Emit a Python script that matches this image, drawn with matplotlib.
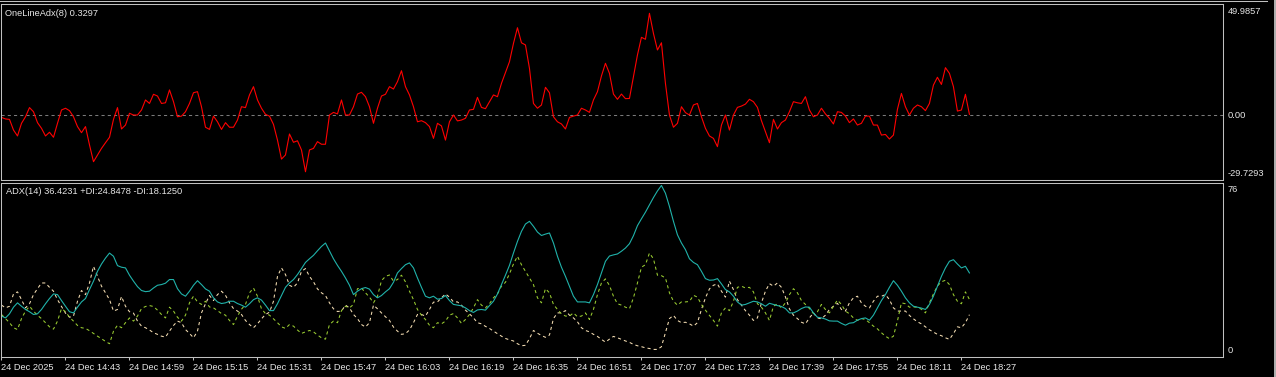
import matplotlib
matplotlib.use("Agg")
import matplotlib.pyplot as plt
import numpy as np
from matplotlib.lines import Line2D

W, H = 1276, 377

# OneLineAdx(8), one value per M1 bar
osc = [
    -1.1, -1.8, -2.0, -6.9, -9.6, -3.8, -0.8, 3.4, 1.5, -3.5,
    -6.1, -9.6, -7.9, -10.2, -3.8, 2.3, 3.1, 2.0, -0.8, -5.3,
    -8.1, -5.3, -13.7, -21.4, -18.3, -15.3, -12.7, -10.2, -2.0, 3.4,
    -6.4, -4.6, 0.8, 0.0, 0.0, 2.3, 6.9, 5.3, 9.5, 8.7,
    5.3, 5.6, 11.5, 6.1, -0.8, -0.5, 1.5, 5.3, 10.2, 10.7,
    3.8, -5.6, -6.6, -0.5, -3.1, -6.6, -3.5, -5.6, -5.6, -2.3,
    3.8, 3.4, 9.2, 13.0, 6.9, 3.1, 0.3, -0.5, -4.3, -11.5,
    -20.2, -18.3, -8.7, -12.5, -11.8, -16.0, -26.0, -16.0, -15.3, -12.2,
    -13.4, -13.4, 0.0, 1.2, 0.5, 6.9, 0.0, 0.0, 3.8, 9.6,
    10.4, 8.4, 3.8, -3.8, 3.1, 8.7, 9.5, 13.0, 11.9, 15.3,
    20.3, 13.0, 9.2, 3.8, -3.1, -2.6, -3.5, -5.3, -10.7, -3.8,
    -5.0, -11.5, -3.1, 0.0, -2.7, -2.3, -1.5, 2.3, 2.6, 8.1,
    3.5, 2.9, 6.1, 9.2, 8.4, 14.5, 19.4, 24.4, 32.8, 40.0,
    33.1, 32.1, 21.4, 5.3, 3.1, 4.6, 12.7, 10.2, -0.8, -3.1,
    -4.1, -6.4, -1.1, -0.5, 0.0, 3.1, 2.3, 1.2, 6.9, 10.7,
    17.9, 23.7, 19.1, 9.6, 7.2, 9.6, 7.5, 7.6, 17.6, 27.5,
    35.6, 34.7, 46.6, 37.4, 29.8, 33.1, 14.5, 0.0, -5.6, -3.8,
    3.8, 1.1, 0.0, 4.6, 5.3, -0.8, -6.1, -9.6, -10.7, -14.5,
    -4.6, 0.0, -6.9, 0.0, 3.5, 4.1, 5.0, 7.2, 6.1, 3.5,
    -2.6, -7.6, -12.7, -2.0, -6.4, -3.5, -2.3, 1.5, 6.1, 5.6,
    5.3, 8.4, 2.3, -0.8, 0.0, 3.1, 0.5, -1.5, -4.1, 1.5,
    1.2, -0.5, -3.5, -1.8, -4.6, -3.8, -0.5, -0.5, -4.6, -4.6,
    -9.2, -8.9, -11.0, -9.2, 2.6, 9.9, 3.8, 0.0, 3.1, 4.6,
    3.8, 2.0, 5.3, 13.7, 17.3, 14.0, 21.7, 19.1, 13.0, 1.8,
    2.3, 9.5, 0.3,
]

# ADX(14) main line, +DI, -DI
adx = [
    17.5, 16.7, 18.5, 21.4, 23.3, 21.8, 20.4, 19.4, 18.2, 18.5,
    20.4, 22.9, 25.2, 27.2, 26.9, 24.3, 21.8, 19.4, 18.9, 21.4,
    23.7, 25.2, 29.1, 32.8, 37.1, 40.3, 42.9, 45.1, 43.7, 39.6,
    38.9, 38.6, 35.4, 32.8, 30.4, 28.7, 28.2, 28.4, 29.8, 31.0,
    31.3, 31.9, 33.5, 33.5, 29.5, 27.2, 26.2, 28.4, 31.0, 33.0,
    31.3, 29.4, 28.4, 25.5, 23.7, 23.0, 23.3, 24.0, 24.0, 23.0,
    22.3, 21.4, 22.9, 24.7, 25.5, 24.5, 22.3, 19.9, 19.9, 22.9,
    26.5, 30.1, 32.0, 33.5, 35.7, 38.3, 41.0, 42.6, 44.1, 46.1,
    48.0, 49.5, 46.1, 42.6, 39.7, 37.1, 34.2, 31.0, 26.9, 28.4,
    29.5, 30.0, 29.3, 26.9, 25.5, 26.5, 28.1, 29.5, 32.3, 36.4,
    38.3, 40.0, 40.8, 38.6, 34.2, 30.1, 26.2, 25.5, 26.2, 24.9,
    25.2, 26.5, 24.3, 22.6, 22.3, 22.0, 21.1, 19.9, 19.1, 20.2,
    20.4, 20.1, 22.1, 24.0, 27.2, 31.3, 35.4, 39.7, 45.1, 50.2,
    54.6, 57.8, 59.0, 56.8, 54.3, 52.8, 53.4, 53.9, 49.5, 43.7,
    38.9, 34.9, 30.6, 26.2, 23.7, 23.7, 23.7, 23.3, 26.9, 31.3,
    36.4, 41.5, 43.8, 44.3, 44.7, 45.9, 47.3, 49.2, 52.7, 57.1,
    60.1, 63.0, 66.2, 69.4, 72.3, 74.7, 71.3, 65.5, 59.0, 53.1,
    49.5, 46.6, 42.6, 41.0, 40.0, 37.1, 33.9, 33.2, 33.3, 33.9,
    31.6, 29.1, 28.1, 26.2, 23.7, 22.3, 22.6, 23.3, 24.0, 23.7,
    22.9, 21.8, 23.1, 22.6, 22.1, 21.7, 20.8, 18.9, 18.9, 19.7,
    20.8, 21.5, 21.4, 18.9, 17.0, 16.7, 16.2, 15.4, 15.3, 15.3,
    14.3, 13.5, 14.4, 14.6, 15.7, 16.4, 16.7, 15.7, 17.9, 21.1,
    24.3, 26.9, 30.1, 33.0, 31.0, 28.4, 25.5, 23.3, 21.8, 21.4,
    21.0, 20.4, 22.6, 26.2, 30.6, 34.9, 38.6, 41.5, 42.2, 40.3,
    38.6, 39.3, 36.4,
]

plus_di = [
    18.2, 16.4, 14.6, 12.4, 11.6, 16.4, 19.7, 21.8, 19.7, 17.8,
    16.4, 14.6, 12.8, 11.8, 15.3, 20.8, 19.4, 17.0, 15.3, 13.4,
    12.4, 12.1, 11.1, 9.9, 8.7, 7.6, 6.4, 5.4, 10.9, 13.5,
    12.4, 14.6, 16.7, 15.3, 17.5, 20.8, 21.7, 22.1, 21.7, 20.1,
    18.2, 16.7, 21.4, 19.7, 17.0, 15.3, 17.9, 23.3, 26.2, 23.7,
    22.6, 24.0, 21.5, 21.1, 19.9, 18.6, 17.9, 15.6, 13.8, 17.5,
    20.5, 22.6, 27.7, 29.8, 26.2, 20.7, 18.6, 17.9, 16.3, 14.6,
    12.8, 12.1, 13.8, 13.1, 11.4, 9.9, 10.6, 11.2, 10.6, 9.2,
    8.0, 7.4, 13.8, 15.3, 14.6, 19.9, 21.8, 21.1, 22.6, 29.5,
    29.8, 27.7, 25.8, 23.3, 26.2, 33.0, 34.9, 35.5, 32.8, 33.5,
    35.4, 32.5, 28.4, 24.7, 20.4, 17.9, 16.0, 13.5, 12.4, 14.6,
    14.1, 15.3, 17.9, 18.6, 16.7, 14.3, 16.0, 18.2, 21.1, 24.7,
    22.3, 21.1, 22.9, 25.5, 27.2, 30.6, 32.3, 36.0, 40.3, 43.7,
    40.0, 37.1, 34.2, 31.3, 25.5, 23.3, 29.5, 27.7, 22.6, 20.4,
    18.5, 17.5, 17.5, 18.9, 17.2, 17.5, 18.9, 16.0, 20.4, 26.9,
    32.0, 33.8, 30.9, 26.2, 22.9, 22.3, 21.4, 20.7, 25.5, 32.0,
    38.9, 40.0, 45.1, 42.6, 35.4, 35.2, 34.2, 27.7, 24.0, 22.3,
    23.7, 23.7, 23.9, 26.6, 25.8, 22.6, 20.1, 17.8, 15.6, 13.1,
    18.9, 21.1, 19.9, 24.0, 30.1, 30.6, 29.8, 30.1, 28.1, 22.9,
    21.4, 18.9, 15.6, 21.8, 22.9, 21.1, 23.3, 26.9, 29.5, 27.7,
    24.3, 22.6, 20.8, 18.6, 19.4, 22.6, 20.4, 18.9, 21.8, 24.5,
    22.6, 19.7, 18.5, 16.7, 15.6, 16.4, 16.0, 14.6, 13.1, 11.9,
    10.2, 8.7, 7.6, 8.7, 15.3, 23.3, 22.9, 21.4, 21.5, 21.4,
    20.5, 18.9, 23.3, 27.2, 30.7, 32.5, 33.2, 31.3, 26.9, 24.0,
    22.9, 28.1, 24.8,
]

minus_di = [
    22.3, 21.1, 21.8, 27.2, 28.1, 24.7, 21.1, 22.9, 26.9, 29.5,
    32.0, 32.0, 30.1, 28.4, 24.7, 21.7, 18.8, 17.0, 17.5, 24.0,
    28.7, 26.9, 32.0, 39.3, 34.9, 30.6, 27.7, 24.7, 19.7, 20.4,
    26.1, 21.8, 19.4, 18.8, 15.3, 13.1, 12.4, 11.4, 10.2, 9.5,
    8.7, 8.3, 10.9, 13.4, 15.3, 14.6, 11.6, 9.9, 8.0, 10.9,
    18.9, 22.9, 26.5, 24.3, 26.9, 28.4, 26.6, 23.3, 20.8, 19.7,
    18.2, 15.6, 13.8, 12.4, 14.1, 16.3, 18.2, 19.2, 24.0, 34.9,
    38.6, 35.7, 31.0, 30.1, 32.0, 37.1, 38.3, 34.9, 32.5, 29.4,
    27.7, 26.5, 23.3, 20.7, 19.5, 19.7, 22.3, 21.1, 18.2, 16.4,
    13.8, 12.7, 14.6, 22.3, 20.7, 18.9, 17.2, 15.6, 12.7, 10.9,
    9.5, 9.8, 11.4, 14.6, 18.2, 18.2, 17.5, 20.4, 23.6, 23.7,
    25.5, 27.2, 25.8, 23.7, 23.7, 22.3, 20.1, 18.5, 16.7, 14.6,
    14.1, 13.0, 12.1, 10.9, 9.8, 8.7, 7.7, 7.1, 6.6, 5.4,
    4.5, 4.7, 7.6, 11.2, 10.0, 9.0, 8.2, 9.2, 16.4, 18.9,
    18.9, 19.9, 17.9, 16.7, 15.0, 12.4, 11.2, 10.6, 9.5, 8.6,
    7.3, 6.1, 7.4, 8.6, 8.0, 7.3, 6.6, 6.0, 5.1, 4.5,
    4.1, 3.6, 3.3, 2.9, 2.9, 4.1, 10.2, 16.4, 17.8, 15.6,
    14.6, 14.8, 14.1, 13.1, 14.6, 20.4, 25.5, 29.4, 31.0, 31.6,
    28.4, 25.8, 32.8, 29.1, 24.7, 22.3, 19.9, 17.9, 15.6, 16.7,
    23.3, 28.4, 31.7, 30.6, 32.0, 30.1, 25.9, 20.7, 17.9, 16.4,
    14.8, 14.1, 16.7, 18.9, 16.7, 16.3, 17.9, 20.4, 21.8, 23.1,
    20.4, 19.7, 23.3, 25.5, 26.2, 23.3, 21.8, 21.1, 24.0, 26.2,
    26.2, 26.9, 24.7, 21.1, 19.7, 19.7, 19.7, 17.8, 16.3, 15.0,
    14.1, 12.8, 11.5, 10.5, 9.5, 8.9, 8.0, 7.3, 9.8, 12.8,
    12.4, 14.6, 18.1,
]

time_labels = ["24 Dec 2025", "24 Dec 14:43", "24 Dec 14:59", "24 Dec 15:15",
               "24 Dec 15:31", "24 Dec 15:47", "24 Dec 16:03", "24 Dec 16:19",
               "24 Dec 16:35", "24 Dec 16:51", "24 Dec 17:07", "24 Dec 17:23",
               "24 Dec 17:39", "24 Dec 17:55", "24 Dec 18:11", "24 Dec 18:27"]
label_step = 16  # bars between time labels

plt.rcParams['font.family'] = ['Liberation Sans', 'DejaVu Sans']
FS = 6.7
BORDER = '#C0C0C0'
TXT = '#E6E6E6'


def px(x, y):
    # pixel position -> figure fraction
    return x / W, 1 - y / H


def panel(top, bottom):
    left, right = 1, 1223
    return [left / W, 1 - bottom / H, (right - left) / W, (bottom - top) / H]


fig = plt.figure(figsize=(W / 100, H / 100), dpi=100, facecolor='black')
bars = np.arange(len(osc))
xlim = (-0.125, 305.4)

ax1 = fig.add_axes(panel(3.5, 179.5))
ax2 = fig.add_axes(panel(182.5, 356.5))
for ax in (ax1, ax2):
    ax.set_facecolor('black')
    for s in ax.spines.values():
        s.set_color(BORDER)
        s.set_linewidth(0.75)
    ax.set_xlim(*xlim)
    ax.set_yticks([])

# upper window
ax1.axhline(0, color='#7A7A7A', lw=0.75, dashes=(3, 3))
ax1.plot(bars, osc, color='#FF0000', lw=0.8)
ax1.set_ylim(-29.55, 51.1)
ax1.set_xticks([])

# lower window
ax2.plot(bars, minus_di, color='#F5DEB3', lw=0.75, dashes=(3, 3))
ax2.plot(bars, plus_di, color='#9ACD32', lw=0.75, dashes=(3, 3))
ax2.plot(bars, adx, color='#20B2AA', lw=0.8)
ax2.set_ylim(-0.2, 76)
ax2.set_xticks(np.arange(len(time_labels)) * label_step)
ax2.set_xticklabels(time_labels, ha='left', fontsize=FS, color=TXT)
ax2.tick_params(axis='x', direction='out', length=2.5, width=0.75,
                color=BORDER, pad=2)

# indicator headers
fig.text(*px(5, 13.5), "OneLineAdx(8) 0.3297", color=TXT, fontsize=FS, va='center')
fig.text(*px(6, 192), "ADX(14) 36.4231 +DI:24.8478 -DI:18.1250", color=TXT,
         fontsize=FS, va='center')

# price scale labels (the first one belongs to the main chart above, cut at the edge)
for y, t in [(-2.5, "4447.525"), (11.7, "49.9857"), (115.7, "0.00"),
             (173.7, "-29.7293"), (190, "76"), (350.5, "0")]:
    fig.text(*px(1228, y), t, color=TXT, fontsize=FS, va='center')

# main chart bottom edge and right frame strip
fig.add_artist(Line2D([0, 1267 / W], [1 - 1 / H, 1 - 1 / H], color=BORDER, lw=0.75))
fig.add_artist(Line2D([1 - 1 / W, 1 - 1 / W], [0, 1], color='#D0D0D0', lw=1.2))

fig.savefig('out.png', dpi=100, facecolor='black')
